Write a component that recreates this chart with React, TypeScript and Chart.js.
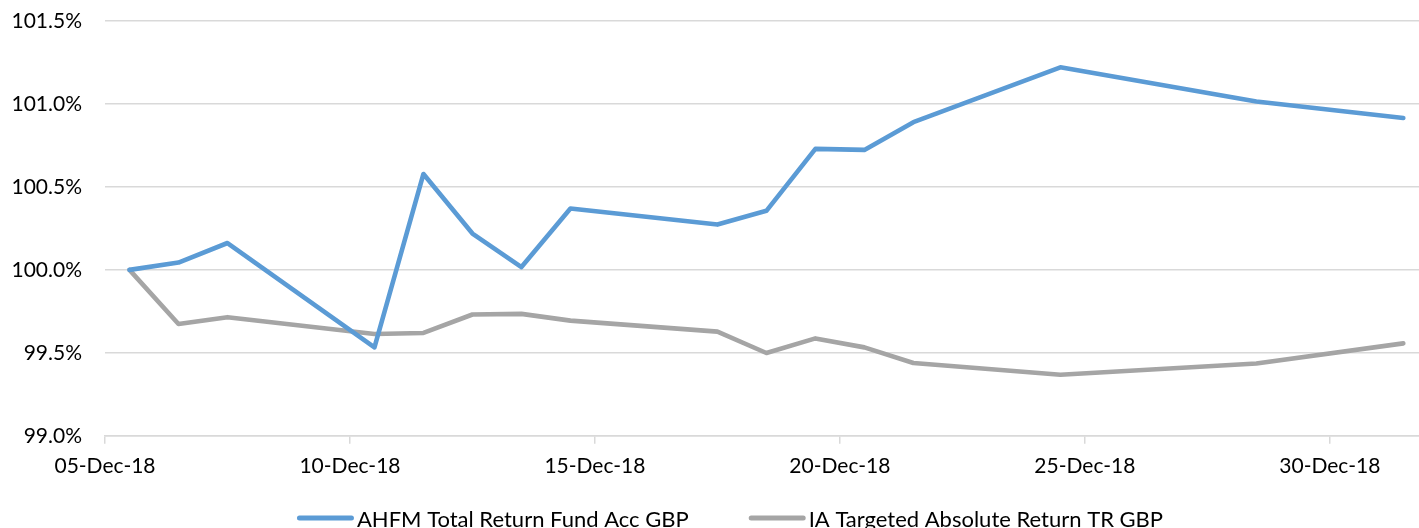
import React, { useEffect, useRef } from "react";
import { Chart, registerables } from "chart.js";

Chart.register(...registerables);

// Trading days in December 2018 (day of month)
const days: number[] = [5, 6, 7, 10, 11, 12, 13, 14, 17, 18, 19, 20, 21, 24, 28, 31];

// Rebased performance (%)
const fundValues: number[] = [
  100.0, 100.044, 100.162, 99.533, 100.578, 100.219, 100.017, 100.37,
  100.273, 100.356, 100.729, 100.723, 100.89, 101.221, 101.015, 100.915,
];
const sectorValues: number[] = [
  100.0, 99.674, 99.715, 99.614, 99.62, 99.731, 99.735, 99.694,
  99.628, 99.499, 99.587, 99.533, 99.439, 99.368, 99.436, 99.557,
];

const seriesNames: string[] = ["AHFM Total Return Fund Acc GBP", "IA Targeted Absolute Return TR GBP"];

// X tick positions (day of month) and their labels
const tickDays: number[] = [5, 10, 15, 20, 25, 30];
const tickLabels: string[] = ["05-Dec-18", "10-Dec-18", "15-Dec-18", "20-Dec-18", "25-Dec-18", "30-Dec-18"];

const BLUE = "#5B9BD5";
const GREY = "#A5A5A5";
const GRID = "#D9D9D9";
const FONT = "Lato";

const legendPlugin = {
  id: "excelLegend",
  afterDraw(chart: any) {
    const ctx = chart.ctx as CanvasRenderingContext2D;
    ctx.save();
    ctx.font = `22px ${FONT}`;
    const lineLen = 57;
    const gapText = 3;
    const gapItems = 60;
    const items = chart.data.datasets.map((ds: any) => ({
      text: ds.label as string,
      color: ds.borderColor as string,
      w: ctx.measureText(ds.label).width,
    }));
    const total =
      items.reduce((s: number, it: any) => s + lineLen + gapText + it.w, 0) +
      gapItems * (items.length - 1);
    let x = 730 - total / 2;
    const baseY = chart.height - 1.5;
    const midY = baseY - 8.5;
    items.forEach((it: any) => {
      ctx.strokeStyle = it.color;
      ctx.lineWidth = 5;
      ctx.lineCap = "round";
      ctx.beginPath();
      ctx.moveTo(x + 2.5, midY);
      ctx.lineTo(x + lineLen - 2.5, midY);
      ctx.stroke();
      x += lineLen + gapText;
      ctx.fillStyle = "#000";
      ctx.textAlign = "left";
      ctx.textBaseline = "alphabetic";
      ctx.fillText(it.text, x, baseY);
      x += it.w + gapItems;
    });
    ctx.restore();
  },
};

export default function App() {
  const canvasRef = useRef<HTMLCanvasElement | null>(null);

  useEffect(() => {
    const prevMargin = document.body.style.margin;
    document.body.style.margin = "0";
    let chart: Chart | null = null;
    let cancelled = false;

    const build = () => {
      if (cancelled || !canvasRef.current) return;
      Chart.defaults.font.family = FONT;
      // Excel date axis plots each day at the centre of its day slot
      const toPoints = (vals: number[]) => days.map((d, i) => ({ x: d + 0.5, y: vals[i] }));
      chart = new Chart(canvasRef.current, {
        type: "line",
        data: {
          datasets: [
            {
              label: seriesNames[0],
              data: toPoints(fundValues),
              borderColor: BLUE,
              backgroundColor: BLUE,
              borderWidth: 4.6,
              pointRadius: 0,
              tension: 0,
              borderJoinStyle: "round",
              borderCapStyle: "round",
            },
            {
              label: seriesNames[1],
              data: toPoints(sectorValues),
              borderColor: GREY,
              backgroundColor: GREY,
              borderWidth: 4.6,
              pointRadius: 0,
              tension: 0,
              borderJoinStyle: "round",
              borderCapStyle: "round",
            },
          ],
        },
        options: {
          responsive: false,
          animation: false,
          events: [],
          layout: { padding: { left: 11, top: 21, right: 0, bottom: 39 } },
          plugins: {
            legend: { display: false },
            tooltip: { enabled: false },
          },
          scales: {
            x: {
              type: "linear",
              min: 5,
              max: 31.82,
              afterBuildTicks: (scale: any) => {
                scale.ticks = tickDays.map((v) => ({ value: v }));
              },
              ticks: {
                callback: (v: any) => {
                  const i = tickDays.indexOf(Number(v));
                  return i >= 0 ? tickLabels[i] : "";
                },
                font: { size: 21, family: FONT },
                color: "#000",
                padding: 10,
                maxRotation: 0,
                autoSkip: false,
              },
              grid: {
                display: true,
                drawOnChartArea: false,
                drawTicks: true,
                tickLength: 8,
                tickColor: GRID,
                lineWidth: 1.5,
              },
              border: { display: true, color: GRID, width: 1.5 },
            },
            y: {
              min: 99,
              max: 101.5,
              ticks: {
                stepSize: 0.5,
                callback: (v: any) => Number(v).toFixed(1) + "%",
                font: { size: 21, family: FONT },
                color: "#000",
                padding: 23,
              },
              afterFit: (scale: any) => {
                scale.width = 94;
                scale.paddingTop = 0;
                scale.paddingBottom = 0;
              },
              grid: {
                color: GRID,
                lineWidth: 1.5,
                drawTicks: false,
              },
              border: { display: false },
            },
          },
        },
        plugins: [legendPlugin],
      });
    };

    const fontsApi = (document as any).fonts;
    if (fontsApi && fontsApi.load) {
      Promise.all([fontsApi.load(`21px ${FONT}`), fontsApi.load(`22px ${FONT}`)])
        .catch(() => {})
        .then(build);
    } else {
      build();
    }

    return () => {
      cancelled = true;
      if (chart) chart.destroy();
      document.body.style.margin = prevMargin;
    };
  }, []);

  return (
    <div>
      <canvas ref={canvasRef} width={1419} height={528} style={{ display: "block" }} />
    </div>
  );
}
